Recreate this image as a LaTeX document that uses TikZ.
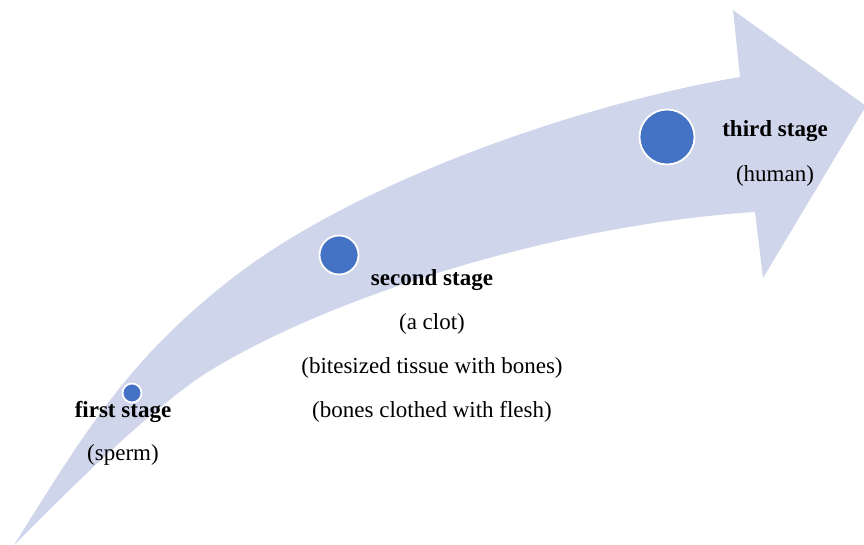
\documentclass[tikz,border=0pt]{standalone}
\usepackage{fontspec}
\setmainfont{Liberation Serif}
\usetikzlibrary{positioning}
\definecolor{bandblue}{HTML}{CFD5EA}
\definecolor{dotblue}{HTML}{4472C4}
\tikzstyle{dot}=[circle, fill=dotblue, draw=white,
    line width=1.8pt, inner sep=0pt]
\tikzstyle{stage}=[inner sep=0pt, anchor=base,
    font=\fontsize{23}{27}\selectfont\bfseries]
\tikzstyle{note}=[stage, font=\fontsize{23}{27}\selectfont]
\def\linedist{44}

\begin{document}
\begin{tikzpicture}[x=1pt,y=-1pt]
    \useasboundingbox (0,0) rectangle (864,545);
    % the curved arrow
    \fill[bandblue] (14,545) .. controls (89,425) and (130,358.5) .. (230,280)
        .. controls (360,178) and (590,102) .. (740,77)
        -- (733,10) -- (866,106) -- (763,278) -- (755,212)
        .. controls (539,226) and (310,305.5) .. (200,377)
        .. controls (140,419) and (74,485) .. (14,545) -- cycle;
    % stages
    \node (first) [dot, minimum size=19pt] at (132,393) {};
    \node (second) [dot, minimum size=39pt] at (339,255) {};
    \node (third) [dot, minimum size=55pt] at (667,137) {};
    \path (first)+(-9,24) node (firstlbl) [stage] {first stage};
    \path (firstlbl.base)+(0,43) node (sperm) [note] {(sperm)};
    \path (second)+(93,30) node (secondlbl) [stage] {second stage};
    \path (secondlbl.base)+(0,\linedist) node (clot) [note] {(a clot)};
    \path (clot.base)+(0,\linedist) node (tissue) [note] {(bitesized tissue with bones)};
    \path (tissue.base)+(0,\linedist) node (flesh) [note] {(bones clothed with flesh)};
    \path (third)+(108,0) node (thirdlbl) [stage] {third stage};
    \path (thirdlbl.base)+(0,45) node (human) [note] {(human)};
\end{tikzpicture}
\end{document}
